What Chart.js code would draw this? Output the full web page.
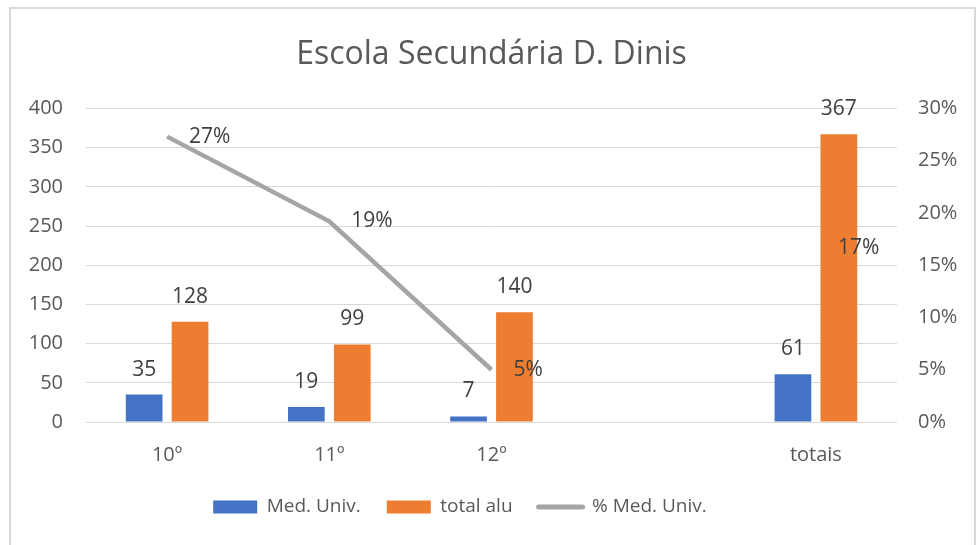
<!DOCTYPE html>
<html>
<head>
<meta charset="utf-8">
<script src="https://cdn.jsdelivr.net/npm/chart.js@4.4.0/dist/chart.umd.min.js"></script>
<style>
  body { margin: 0; background: #fff; }
  #wrap { position: relative; width: 976px; height: 545px; overflow: hidden; }
  #frame { position: absolute; left: 9px; top: 7px; width: 963px; height: 600px; border: 2px solid #d9d9d9; pointer-events: none; }
</style>
</head>
<body>
<div id="wrap">
  <canvas id="myChart" width="976" height="545"></canvas>
  <div id="frame"></div>
</div>
<script>
// chart data
const categories = ['10º', '11º', '12º', '', 'totais'];
const medUniv = [35, 19, 7, null, 61];
const totalAlu = [128, 99, 140, null, 367];
const pctMedUniv = [0.273, 0.192, 0.05, null, 0.166];

const blue = '#4472C4';
const orange = '#ED7D31';
const gray = '#A5A5A5';
const textColor = '#595959';
const fontFamily = '"Open Sans", sans-serif';

//draws the value labels like excel does
const valueLabels = {
  id: 'valueLabels',
  afterDatasetsDraw(chart) {
    const ctx = chart.ctx;
    ctx.save();
    ctx.font = '21px ' + fontFamily;
    ctx.fillStyle = '#404040';
    ctx.textBaseline = 'middle';
    chart.data.datasets.forEach(function (ds, i) {
      const meta = chart.getDatasetMeta(i);
      meta.data.forEach(function (el, j) {
        const v = ds.data[j];
        if (v === null) return;
        if (ds.type === 'line') {
          ctx.textAlign = 'left';
          ctx.fillText(Math.round(v * 100) + '%', el.x + 22, el.y);
        } else {
          ctx.textAlign = 'center';
          ctx.fillText(v, el.x, el.y - 25);
        }
      });
    });
    ctx.restore();
  }
};

//excel puts the legend a bit left of the middle
const legendShift = {
  id: 'legendShift',
  afterLayout(chart) {
    chart.legend.left -= 28;
    chart.legend.right -= 28;
  }
};

const ctx = document.getElementById('myChart').getContext('2d');
const myChart = new Chart(ctx, {
  type: 'bar',
  data: {
    labels: categories,
    datasets: [{
      label: 'Med. Univ.',
      data: medUniv,
      backgroundColor: blue,
      yAxisID: 'y',
      order: 1
    }, {
      label: 'total alu',
      data: totalAlu,
      backgroundColor: orange,
      yAxisID: 'y',
      order: 1
    }, {
      type: 'line',
      label: '% Med. Univ.',
      data: pctMedUniv,
      borderColor: gray,
      backgroundColor: gray,
      borderWidth: 4.5,
      borderCapStyle: 'butt',
      pointRadius: 0,
      spanGaps: false,
      yAxisID: 'y1',
      order: 0
    }]
  },
  options: {
    responsive: false,
    animation: false,
    devicePixelRatio: 1,
    categoryPercentage: 0.566,
    barPercentage: 0.8,
    layout: { padding: { left: 0, right: 0, top: 0, bottom: 18.5 } },
    plugins: {
      tooltip: { enabled: false },
      title: {
        display: true,
        fullSize: false,
        text: 'Escola Secundária D. Dinis',
        color: textColor,
        font: { family: fontFamily, size: 32, weight: 'normal' },
        padding: { top: 36, bottom: 34 }
      },
      legend: {
        position: 'bottom',
        labels: {
          color: textColor,
          font: { family: fontFamily, size: 19 },
          usePointStyle: true,
          pointStyleWidth: 44,
          boxHeight: 13,
          padding: 26,
          generateLabels: function (chart) {
            return chart.data.datasets.map(function (ds, i) {
              const isLine = ds.type === 'line';
              return {
                text: ds.label,
                fillStyle: isLine ? gray : ds.backgroundColor,
                strokeStyle: isLine ? gray : ds.backgroundColor,
                lineWidth: isLine ? 5 : 0,
                lineCap: 'round',
                pointStyle: isLine ? 'line' : 'rect',
                fontColor: textColor,
                datasetIndex: i
              };
            });
          }
        }
      }
    },
    scales: {
      x: {
        grid: { display: false },
        border: { display: false },
        ticks: { color: textColor, font: { family: fontFamily, size: 20 }, padding: 13 },
        afterFit: function (scale) { scale.height = 49.5; }
      },
      y: {
        position: 'left',
        min: 0,
        max: 400,
        ticks: { stepSize: 50, color: textColor, font: { family: fontFamily, size: 20 }, padding: 23 },
        grid: { color: '#d9d9d9', drawTicks: false },
        border: { display: false },
        afterFit: function (scale) { scale.width = 86; }
      },
      y1: {
        position: 'right',
        min: 0,
        max: 0.3,
        ticks: {
          stepSize: 0.05,
          color: textColor,
          font: { family: fontFamily, size: 20 },
          padding: 21,
          callback: function (v) { return Math.round(v * 100) + '%'; }
        },
        grid: { drawOnChartArea: false, drawTicks: false },
        border: { display: false },
        afterFit: function (scale) { scale.width = 79; }
      }
    }
  },
  plugins: [valueLabels, legendShift]
});
</script>
</body>
</html>
